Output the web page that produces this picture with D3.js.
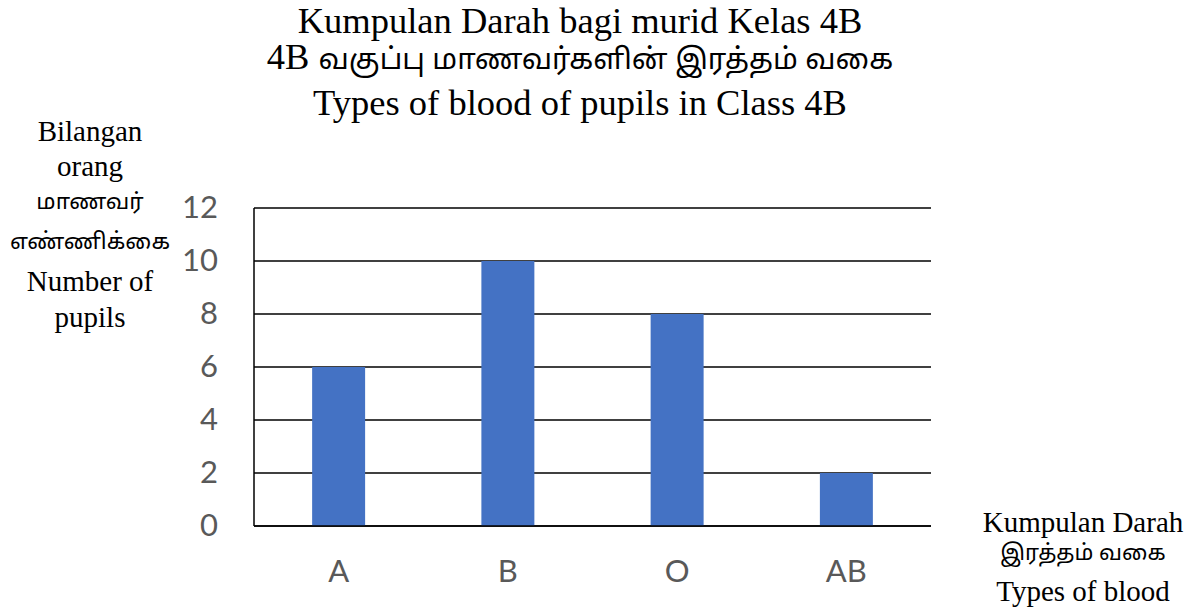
<!DOCTYPE html>
<html>
<head>
<meta charset="utf-8">
<script src="https://cdn.jsdelivr.net/npm/d3@7"></script>
<style>
  html, body { margin: 0; padding: 0; background: #fff; }
  svg { display: block; }
</style>
</head>
<body>
<svg id="chart" width="1202" height="611"></svg>
<script>
const categories = ["A", "B", "O", "AB"];
const values = [6, 10, 8, 2];
const yTicks = [0, 2, 4, 6, 8, 10, 12];
const titleLines = ["Kumpulan Darah bagi murid Kelas 4B", "4B  வகுப்பு  மாணவர்களின்  இரத்தம்  வகை", "Types of blood of pupils in Class 4B"];
const yTitleLines = ["Bilangan", "orang", "மாணவர்", "எண்ணிக்கை", "Number of", "pupils"];
const xTitleLines = ["Kumpulan Darah", "இரத்தம்  வகை", "Types of blood"];

(function () {
const svg = d3.select("#chart");
const serif = "'Liberation Serif', 'Times New Roman', serif";
const tamil = "'Noto Sans Tamil', 'Lohit Tamil', 'Latha', 'Noto Sans', sans-serif";
const sans = "Lato, 'Open Sans', Calibri, sans-serif";

const pLeft = 254, pRight = 931, pTop = 208, pBottom = 526;

const x = d3.scaleBand().domain(categories).range([pLeft, pRight]).paddingInner(0).paddingOuter(0);
const y = d3.scaleLinear().domain([0, 12]).range([pBottom, pTop]);
const barW = x.bandwidth() * 0.313;

// gridlines
svg.append("g").selectAll("line").data(yTicks).join("line")
  .attr("x1", pLeft).attr("x2", pRight)
  .attr("y1", d => y(d)).attr("y2", d => y(d))
  .attr("stroke", "#000").attr("stroke-width", 1.5);

// bars
svg.append("g").selectAll("rect").data(values).join("rect")
  .attr("x", (d, i) => x(categories[i]) + x.bandwidth() / 2 - barW / 2)
  .attr("width", barW)
  .attr("y", d => y(d))
  .attr("height", d => y(0) - y(d))
  .attr("fill", "#4472C4");

// left axis line and baseline
svg.append("line").attr("x1", pLeft).attr("x2", pLeft).attr("y1", y(12)).attr("y2", y(0))
  .attr("stroke", "#000").attr("stroke-width", 1.5);
svg.append("line").attr("x1", pLeft).attr("x2", pRight).attr("y1", y(0)).attr("y2", y(0))
  .attr("stroke", "#000").attr("stroke-width", 1.5);

// y axis tick labels
const yAxis = svg.append("g").attr("transform", `translate(${pLeft},0)`)
  .call(d3.axisLeft(y).tickValues(yTicks).tickSize(0).tickPadding(36).tickFormat(d3.format("d")));
yAxis.select(".domain").remove();
yAxis.selectAll("text").attr("font-family", sans).attr("font-size", 31).attr("fill", "#595959");

// x axis labels
const xAxis = svg.append("g").attr("transform", `translate(0,${pBottom})`)
  .call(d3.axisBottom(x).tickSize(0).tickPadding(34));
xAxis.select(".domain").remove();
xAxis.selectAll("text").attr("font-family", sans).attr("font-size", 31).attr("fill", "#595959");

function isTamil(s) { return /[\u0B80-\u0BFF]/.test(s); }

// title
const titleY = [33, 69, 115];
svg.append("g").selectAll("text").data(titleLines).join("text")
  .attr("x", 580).attr("y", (d, i) => titleY[i])
  .attr("text-anchor", "middle")
  .attr("font-family", (d) => isTamil(d) ? tamil : serif)
  .attr("font-size", (d) => isTamil(d) ? 29 : 36.5)
  .attr("fill", "#000")
  .each(function(d) {
    const t = d3.select(this);
    if (isTamil(d)) {
      const m = d.match(/^(\S+)(\s+)(.*)$/);
      t.append("tspan").attr("font-family", serif).attr("font-size", 36.5).text(m[1] + " ");
      t.append("tspan").text(" " + m[3]);
    } else t.text(d);
  });

// y title
const yTitleY = [141, 176, 209, 249, 291, 327];
svg.append("g").selectAll("text").data(yTitleLines).join("text")
  .attr("x", 90).attr("y", (d, i) => yTitleY[i])
  .attr("text-anchor", "middle")
  .attr("font-family", d => isTamil(d) ? tamil : serif)
  .attr("font-size", d => isTamil(d) ? 22.5 : 29)
  .attr("fill", "#000")
  .text(d => d);

// x title
const xTitleY = [532, 560, 601];
svg.append("g").selectAll("text").data(xTitleLines).join("text")
  .attr("x", 1083).attr("y", (d, i) => xTitleY[i])
  .attr("text-anchor", "middle")
  .attr("font-family", d => isTamil(d) ? tamil : serif)
  .attr("font-size", d => isTamil(d) ? 22 : 29)
  .attr("fill", "#000")
  .text(d => d);
})();
</script>
</body>
</html>
